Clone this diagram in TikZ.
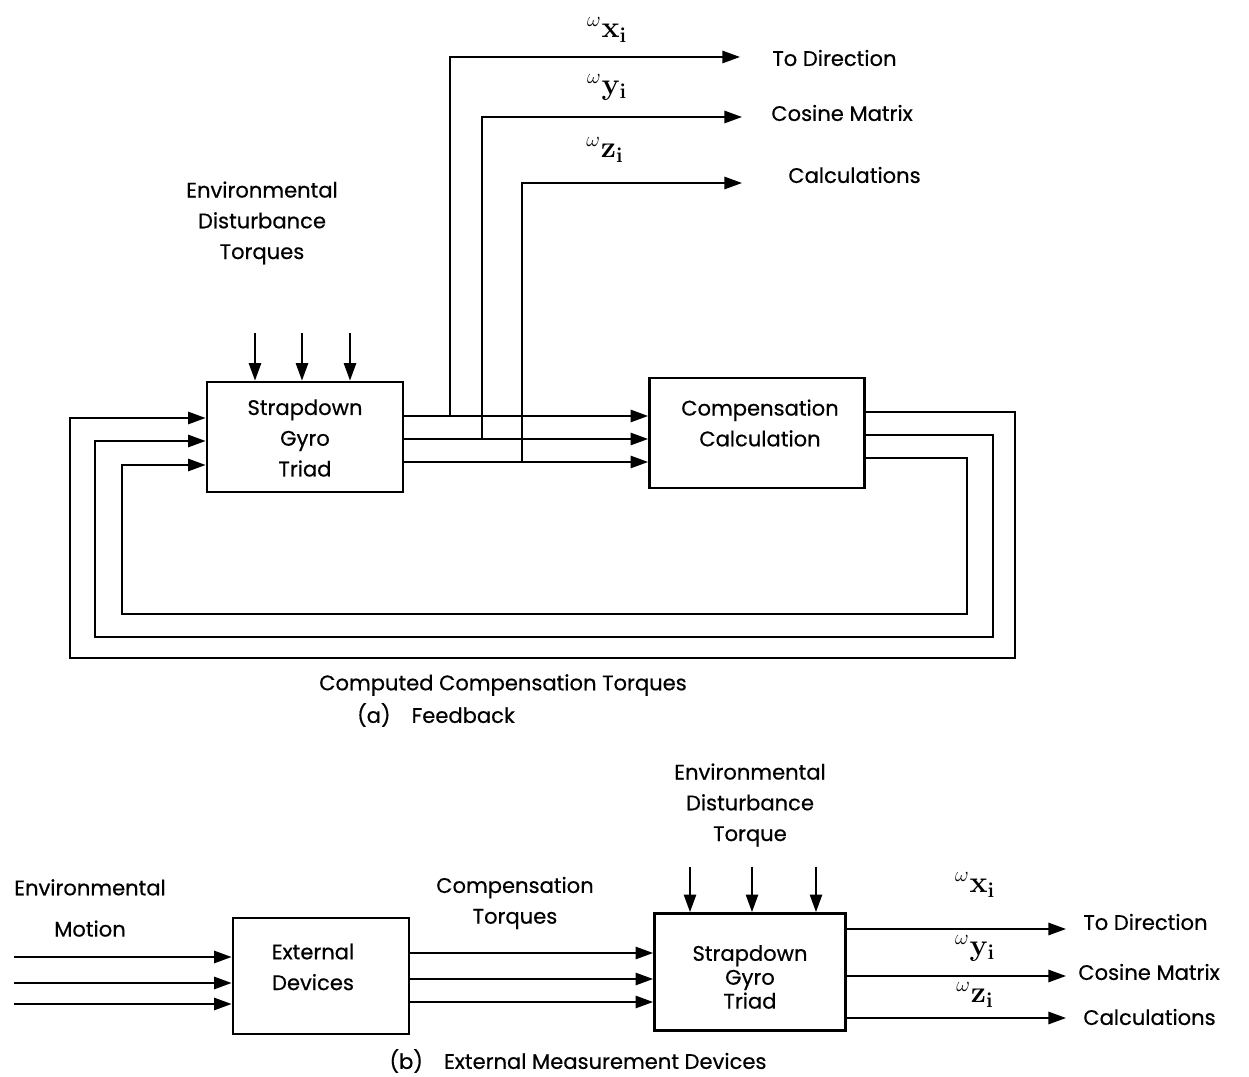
\documentclass[tikz,border=0pt]{standalone}
\usepackage[no-math]{fontspec}
\setmainfont{Poppins}[FakeBold=0.5]
\usepackage{tikz}
\usetikzlibrary{arrows.meta}
\tikzset{
  blk/.style={draw=black, line width=1.6pt, inner sep=0pt, fill=white},
  txt/.style={font=\fontsize{12pt}{17.5pt}\selectfont, align=center, inner sep=0pt},
  tighttxt/.style={font=\fontsize{12pt}{13.6pt}\selectfont, align=center, inner sep=0pt},
  omg/.style={font=\fontsize{16.5pt}{18pt}\selectfont, inner sep=0pt},
  sig/.style={-{Triangle[length=10pt,width=7pt]}, line width=1.1pt},
}
\newcommand\omgsub[1]{${}^{\omega}\mathbf{#1}_{\mathbf{i}}$}

\begin{document}
\begin{tikzpicture}[x=0.02cm, y=-0.02cm]
  \useasboundingbox (0,0) rectangle (1249,1077);

  % (a) feedback
  \node[blk, minimum width=3.92cm, minimum height=2.2cm] (gyroa) at (305,437) {};
  \node[txt] (gyroatxt) at (305,438) {Strapdown\\Gyro\\Triad};
  \node[blk, minimum width=4.3cm, minimum height=2.2cm] (comp) at (757,433) {};
  \node[txt] (comptxt) at (760,423) {Compensation\\Calculation};

  \node[txt] (enva) at (262,223) {Environmental\\Disturbance\\Torques};
  \node[txt, anchor=west] (todira) at (772,58) {To Direction};
  \node[txt, anchor=west] (cosma) at (771,113) {Cosine Matrix};
  \node[txt, anchor=west] (calca) at (788,175) {Calculations};
  \node[omg] (wxa) at (607,30) {\omgsub{x}};
  \node[omg] (wya) at (607,87) {\omgsub{y}};
  \node[omg] (wza) at (605,150) {\omgsub{z}};
  \node[txt] (cct) at (503,685) {Computed Compensation Torques};
  \node[txt] (capa) at (436,715) {(a)\quad Feedback};

  \foreach \x [count=\i] in {255,302,350} {
    \coordinate (da\i) at (\x,333);
    \draw[sig] (da\i) -- (gyroa.north -| da\i);
  }

  \draw[sig] (gyroa.east |- 0,416) -- (comp.west |- 0,416);
  \draw[sig] (gyroa.east |- 0,439) -- (comp.west |- 0,439);
  \draw[sig] (gyroa.east |- 0,462) -- (comp.west |- 0,462);

  \coordinate (tx) at (450,416);
  \coordinate (ty) at (482,439);
  \coordinate (tz) at (522,462);
  \coordinate (ox) at (740,57);
  \coordinate (oy) at (742,117);
  \coordinate (oz) at (742,183);
  \draw[sig] (tx) |- (ox);
  \draw[sig] (ty) |- (oy);
  \draw[sig] (tz) |- (oz);

  \draw[sig] (comp.east |- 0,412) -| (1015,658) -| (70,418) -- (gyroa.west |- 0,418);
  \draw[sig] (comp.east |- 0,435) -| (993,637) -| (95,441) -- (gyroa.west |- 0,441);
  \draw[sig] (comp.east |- 0,458) -| (967,614) -| (122,465) -- (gyroa.west |- 0,465);

  % (b) external measurement devices
  \node[blk, minimum width=3.52cm, minimum height=2.32cm] (extdev) at (321,976) {};
  \node[txt] (extdevtxt) at (313,967) {External\\Devices};
  \node[blk, minimum width=3.82cm, minimum height=2.34cm] (gyrob) at (750,972) {};
  \node[tighttxt] (gyrobtxt) at (750,977) {Strapdown\\Gyro\\Triad};

  \node[txt] (motion) at (90,908) {Environmental\\[6pt]Motion};
  \node[txt] (ctq) at (515,903) {Compensation\\Torques};
  \node[txt] (envb) at (750,805) {Environmental\\Disturbance\\Torque};
  \node[omg] (wxb) at (975,885) {\omgsub{x}};
  \node[omg] (wyb) at (975,948) {\omgsub{y}};
  \node[omg] (wzb) at (975,995) {\omgsub{z}};
  \node[txt, anchor=west] (todirb) at (1083,922) {To Direction};
  \node[txt, anchor=west] (cosmb) at (1078,972) {Cosine Matrix};
  \node[txt, anchor=west] (calcb) at (1083,1017) {Calculations};
  \node[txt] (capb) at (578,1061) {(b)\quad External Measurement Devices};

  \foreach \y [count=\i] in {957,983,1004} {
    \coordinate (m\i) at (14,\y);
    \draw[sig] (m\i) -- (extdev.west |- m\i);
  }
  \foreach \y in {953,979,1002}
    \draw[sig] (extdev.east |- 0,\y) -- (gyrob.west |- 0,\y);
  \foreach \x [count=\i] in {690,752,816} {
    \coordinate (db\i) at (\x,867);
    \draw[sig] (db\i) -- (gyrob.north -| db\i);
  }
  \foreach \y [count=\i] in {929,976,1018} {
    \coordinate (ob\i) at (1066,\y);
    \draw[sig] (gyrob.east |- ob\i) -- (ob\i);
  }
\end{tikzpicture}
\end{document}
